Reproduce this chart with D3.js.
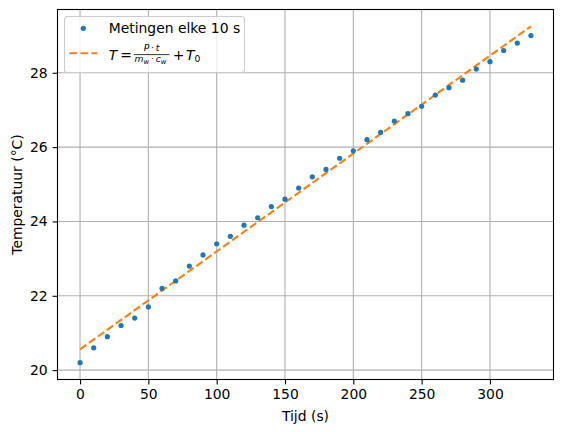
<!DOCTYPE html>
<html>
<head>
<meta charset="utf-8">
<script src="https://cdn.jsdelivr.net/npm/d3@7"></script>
<style>
  html, body { margin: 0; padding: 0; background: #fff; }
  svg { display: block; font-family: "DejaVu Sans", sans-serif; }
</style>
</head>
<body>
<div id="chart"></div>
<script>
// meetpunten (elke 10 s)
const tijd = [0, 10, 20, 30, 40, 50, 60, 70, 80, 90, 100, 110, 120, 130, 140, 150, 160,
  170, 180, 190, 200, 210, 220, 230, 240, 250, 260, 270, 280, 290, 300, 310, 320, 330];
const temperatuur = [20.2, 20.6, 20.9, 21.2, 21.4, 21.7, 22.2, 22.4, 22.8, 23.1, 23.4, 23.6,
  23.9, 24.1, 24.4, 24.6, 24.9, 25.2, 25.4, 25.7, 25.9, 26.2, 26.4, 26.7, 26.9, 27.1,
  27.4, 27.6, 27.8, 28.1, 28.3, 28.6, 28.8, 29.0];

// theoretische lijn (begin- en eindpunt)
const modelTijd = [0, 330];
const modelTemp = [20.56, 29.25];

const xTicks = [0, 50, 100, 150, 200, 250, 300];
const yTicks = [20, 22, 24, 26, 28];

const W = 562, H = 432;
const axL = 57.5, axR = 553.5, axT = 9.5, axB = 379.5;
const FS = 13.9;

// matplotlib-achtige marges van 5%
function padded(vals) {
  const [lo, hi] = d3.extent(vals);
  const m = (hi - lo) * 0.05;
  return [lo - m, hi + m];
}

const x = d3.scaleLinear()
  .domain(padded(tijd.concat(modelTijd)))
  .range([axL, axR]);
const y = d3.scaleLinear()
  .domain(padded(temperatuur.concat(modelTemp)))
  .range([axB, axT]);

const svg = d3.select('#chart').append('svg')
  .attr('width', W)
  .attr('height', H);

svg.append('rect').attr('width', W).attr('height', H).attr('fill', '#fff');

// grid
const grid = svg.append('g').attr('stroke', '#b0b0b0').attr('stroke-width', 1.1);
grid.selectAll('.gx').data(xTicks).join('line')
  .attr('x1', d => x(d)).attr('x2', d => x(d))
  .attr('y1', axT).attr('y2', axB);
grid.selectAll('.gy').data(yTicks).join('line')
  .attr('y1', d => y(d)).attr('y2', d => y(d))
  .attr('x1', axL).attr('x2', axR);

// axes
const xAxis = d3.axisBottom(x).tickValues(xTicks).tickSize(4.9).tickPadding(4.9).tickFormat(d3.format('d'));
const yAxis = d3.axisLeft(y).tickValues(yTicks).tickSize(4.9).tickPadding(4.9).tickFormat(d3.format('d'));

function styleAxis(g) {
  g.select('.domain').remove();
  g.selectAll('.tick line').attr('stroke', '#000').attr('stroke-width', 1.1);
  g.selectAll('.tick text')
    .attr('fill', '#000')
    .style('font-size', FS + 'px')
    .style('font-family', '"DejaVu Sans", sans-serif');
}

svg.append('g')
  .attr('transform', `translate(0,${axB})`)
  .call(xAxis)
  .call(styleAxis);

svg.append('g')
  .attr('transform', `translate(${axL},0)`)
  .call(yAxis)
  .call(styleAxis);

// model line
const line = d3.line().x(d => x(d[0])).y(d => y(d[1]));
svg.append('path')
  .datum(d3.zip(modelTijd, modelTemp))
  .attr('d', line)
  .attr('fill', 'none')
  .attr('stroke', '#ff7f0e')
  .attr('stroke-width', 2.1)
  .attr('stroke-dasharray', '7.7,3.3');

// points
svg.append('g')
  .selectAll('circle')
  .data(d3.zip(tijd, temperatuur))
  .join('circle')
  .attr('cx', d => x(d[0]))
  .attr('cy', d => y(d[1]))
  .attr('r', 2.6)
  .attr('fill', '#1f77b4');

// frame
svg.append('rect')
  .attr('x', axL).attr('y', axT)
  .attr('width', axR - axL).attr('height', axB - axT)
  .attr('fill', 'none')
  .attr('stroke', '#000')
  .attr('stroke-width', 1.1);

// axis labels
svg.append('text')
  .attr('x', (axL + axR) / 2)
  .attr('y', 421)
  .attr('text-anchor', 'middle')
  .style('font-size', FS + 'px')
  .text('Tijd (s)');

svg.append('text')
  .attr('transform', `translate(21.5,${(axT + axB) / 2}) rotate(-90)`)
  .attr('text-anchor', 'middle')
  .style('font-size', FS + 'px')
  .text('Temperatuur (°C)');

// legend
const lg = svg.append('g');
lg.append('rect')
  .attr('x', 64.5).attr('y', 16.5)
  .attr('width', 180).attr('height', 56)
  .attr('rx', 2.8)
  .attr('fill', '#fff').attr('fill-opacity', 0.8)
  .attr('stroke', '#cccccc').attr('stroke-width', 1.1);

lg.append('circle')
  .attr('cx', 83.3).attr('cy', 28.3).attr('r', 2.6)
  .attr('fill', '#1f77b4');
lg.append('text')
  .attr('x', 108.7).attr('y', 33.3)
  .style('font-size', FS + 'px')
  .text('Metingen elke 10 s');

lg.append('line')
  .attr('x1', 69.5).attr('x2', 97.3)
  .attr('y1', 53.3).attr('y2', 53.3)
  .attr('stroke', '#ff7f0e')
  .attr('stroke-width', 2.1)
  .attr('stroke-dasharray', '7.7,3.3');

// T = P·t / (m_w·c_w) + T_0
const small = 9.2, tiny = 6.9;
const base = 59.5;
lg.append('text').attr('x', 108.7).attr('y', base)
  .style('font-size', FS + 'px').style('font-style', 'italic').text('T');
lg.append('text').attr('x', 126).attr('y', base).attr('text-anchor', 'middle')
  .style('font-size', FS + 'px').text('=');
lg.append('text').attr('x', 151.5).attr('y', 51.2).attr('text-anchor', 'middle')
  .style('font-size', small + 'px')
  .html('<tspan font-style="italic">P</tspan><tspan>\u2009·\u2009</tspan><tspan font-style="italic">t</tspan>');
lg.append('line')
  .attr('x1', 134).attr('x2', 169.5)
  .attr('y1', 54.6).attr('y2', 54.6)
  .attr('stroke', '#000').attr('stroke-width', 0.8);
const den = lg.append('text').attr('x', 134.5).attr('y', 62.2).style('font-size', small + 'px');
den.append('tspan').style('font-style', 'italic').text('m');
den.append('tspan').style('font-style', 'italic').style('font-size', tiny + 'px').attr('dy', 1.6).text('w');
den.append('tspan').attr('dy', -1.6).text('\u2009·\u2009');
den.append('tspan').style('font-style', 'italic').text('c');
den.append('tspan').style('font-style', 'italic').style('font-size', tiny + 'px').attr('dy', 1.6).text('w');

lg.append('text').attr('x', 178.5).attr('y', base).attr('text-anchor', 'middle')
  .style('font-size', FS + 'px').text('+');
const t0 = lg.append('text').attr('x', 186).attr('y', base).style('font-size', FS + 'px');
t0.append('tspan').style('font-style', 'italic').text('T');
t0.append('tspan').style('font-size', small + 'px').attr('dy', 2.5).text('0');
</script>
</body>
</html>
